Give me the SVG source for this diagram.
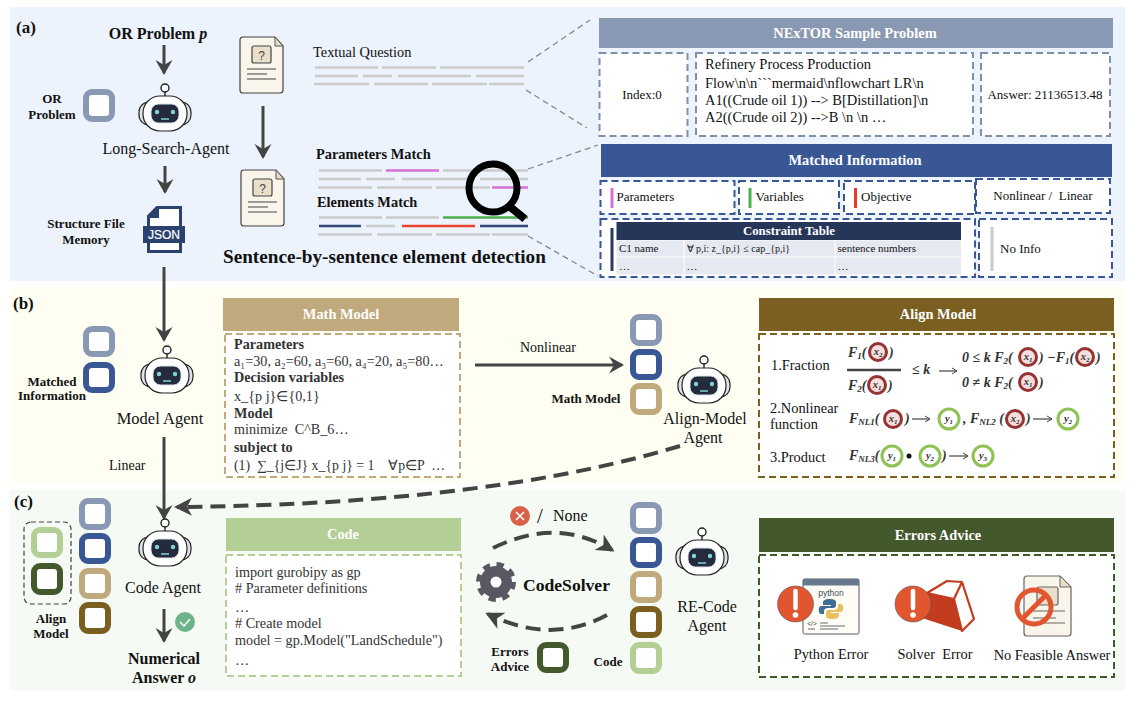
<svg xmlns="http://www.w3.org/2000/svg" width="1140" height="702" viewBox="0 0 1140 702">
<style>
text{font-family:"Liberation Serif","Times New Roman",serif;fill:#111}
.b{font-weight:bold}
.c{text-anchor:middle}
.t16{font-size:16px}.t14{font-size:14.4px}.t13{font-size:13px}.t11{font-size:13px}.t10{font-size:11px}
.lab{font-size:17px;font-weight:bold}
.hd{font-size:14.400px;font-weight:bold;fill:#fff;text-anchor:middle}
.body{font-size:14.200px;fill:#333}
.sq{fill:#fff;stroke-width:6}
.slate{stroke:#8a99b3}.blue{stroke:#3a5795}.tan{stroke:#c0aa7d}.brown{stroke:#7a5f20}.lg{stroke:#b3cf95}.dg{stroke:#43582b}
.dash{fill:#fff;stroke-width:2;stroke-dasharray:7 4}
.gl{stroke:#cbcbcb;stroke-width:2.5;fill:none}
.ar{stroke:#444;stroke-width:3;fill:none;marker-end:url(#h)}
.ad{stroke:#444;stroke-width:4;fill:none;stroke-dasharray:15 8;marker-end:url(#h2)}
.lead{stroke:#888;stroke-width:1.3;fill:none;stroke-dasharray:6 4}
.m{font-size:14px;font-weight:bold;font-style:italic;fill:#333}
.s{font-size:9px}
.rc{fill:#f4dede;stroke:#963232;stroke-width:3}
.gc{fill:#fff;stroke:#8fc254;stroke-width:3}
.v{font-size:10.500px;font-weight:bold;font-style:italic;text-anchor:middle;fill:#333}
.v tspan{font-size:7px}
.ma{stroke:#444;stroke-width:1.2;fill:none;marker-end:url(#h3)}
</style>
<defs>
<marker id="h" markerUnits="userSpaceOnUse" markerWidth="16" markerHeight="18" refX="13" refY="9" orient="auto"><path d="M15,9L0,0.5L5,9L0,17.5z" fill="#444"/></marker>
<marker id="h2" markerUnits="userSpaceOnUse" markerWidth="19" markerHeight="20" refX="15" refY="10" orient="auto"><path d="M18,10L0,1L5,10L0,19z" fill="#444"/></marker>
<marker id="h3" markerUnits="userSpaceOnUse" markerWidth="7" markerHeight="8" refX="6" refY="4" orient="auto"><path d="M1,1L6,4L1,7" fill="none" stroke="#444" stroke-width="1"/></marker>
<g id="robot">
<path d="M0,-23V-18" stroke="#222" stroke-width="1.4"/>
<circle cx="0" cy="-27" r="4" fill="#fff" stroke="#222" stroke-width="1.4"/>
<rect x="-26" y="-13" width="52" height="23" rx="10" fill="#e3e4ea" stroke="#222" stroke-width="1.2"/>
<rect x="-22" y="-19" width="44" height="35" rx="17" fill="#fff" stroke="#222" stroke-width="1.2"/>
<rect x="-14" y="-11" width="28" height="19" rx="7.500" fill="#232b3c" stroke="#dfe1ea" stroke-width="1"/>
<circle cx="-8" cy="-3" r="2.2" fill="#7fd6d3"/><circle cx="8" cy="-3" r="2.2" fill="#7fd6d3"/>
<path d="M-4,4H4" stroke="#7fd6d3" stroke-width="1.5"/>
</g>
<g id="doc">
<path d="M3,0H35L43,9V53Q43,56 40,56H3Q0,56 0,53V3Q0,0 3,0Z" fill="#faf5ea" stroke="#444" stroke-width="1.2"/>
<path d="M35,0V9H43Z" fill="#e8dcc4" stroke="#555" stroke-width="1"/>
<rect x="12" y="9" width="19" height="17" rx="2" fill="#eadfca" stroke="#444" stroke-width="1.2"/>
<path d="M7,32H36M7,37H27M7,42H36" stroke="#444" stroke-width="1.2" fill="none"/>
</g>
</defs>

<rect x="10" y="7" width="1115" height="274" fill="#ecf3fc"/>
<rect x="10" y="288" width="1115" height="195" fill="#fefef2"/>
<rect x="10" y="490" width="1115" height="200" fill="#f6faf4"/>

<g id="connectors">
<path class="ar" d="M164,45V73"/>
<path class="ar" d="M263,106V157"/>
<path class="ar" d="M165,166V192"/>
<path class="ar" d="M164,267V340"/>
<path class="ar" d="M164,437V518"/>
<path class="ar" d="M164,609V641"/>
<path class="ar" d="M475,365H622"/>
<path class="ad" d="M680,446C560,482 400,505 177,507"/>
<path class="ad" d="M493,548C530,530 570,525 612,550"/>
<path class="ad" d="M607,615C570,635 530,635 488,614"/>
<path class="lead" d="M528,62L590,20M526,90L587,128M528,169L598,145M528,236L598,276"/>
</g>

<g id="panel-labels">
<text x="16" y="33" class="lab">(a)</text>
<text x="13" y="309" class="lab">(b)</text>
<text x="14" y="507" class="lab">(c)</text>
</g>

<g id="or-problem">
<text x="158" y="39" class="c b t16">OR Problem <tspan font-style="italic">p</tspan></text>
</g>
<g id="or-square">
<rect class="sq slate" x="86" y="92" width="26" height="27" rx="6"/>
<text x="52" y="103" class="c b t11">OR</text><text x="52" y="119" class="c b t11">Problem</text>
</g>
<g id="long-search-agent">
<use href="#robot" x="165" y="115"/>
<text x="166" y="154" class="c t16">Long-Search-Agent</text>
</g>
<g id="json-memory">
<text x="86" y="228" class="c b t11">Structure File</text><text x="86" y="244" class="c b t11">Memory</text>
<path d="M157,207.500H180.500V251.500H148.500V216Z" fill="#fff" stroke="#2c426e" stroke-width="3"/>
<path d="M147,218L159,206V218Z" fill="#2c426e"/>
<rect x="143" y="226" width="42" height="17" fill="#2c426e"/>
<text x="164" y="239" class="c" style="font-family:'Liberation Sans',sans-serif;font-size:12px;fill:#fff;stroke:#fff;stroke-width:.2">JSON</text>
</g>
<g id="doc-question">
<use href="#doc" x="240" y="37"/>
<text x="261.500" y="60" class="c" style="font-family:'Liberation Sans',sans-serif;font-size:12px;fill:#444">?</text>
</g>
<g id="doc-match">
<use href="#doc" x="241" y="170"/>
<text x="262.500" y="193" class="c" style="font-family:'Liberation Sans',sans-serif;font-size:12px;fill:#444">?</text>
</g>
<g id="textual-question">
<text x="313" y="57" class="t14">Textual Question</text>
<path class="gl" d="M315,67.500H378M382,67.500H436M440,67.500H524M315,76H358M363,76H392M398,76H471M476,76H524M314,84H369M374,84H428M432,84H487M489,84H524"/>
</g>
<g id="parameters-match">
<text x="316" y="159" class="b t14">Parameters Match</text>
<path class="gl" d="M319,170.500H382M443,170.500H528M319,179H361M366,179H395M402,179H475M480,179H528M318,187.500H372M377,187.500H432M436,187.500H490"/>
<path class="gl" style="stroke:#d86fd6" d="M386,170.500H439M492,187.500H528"/>
</g>
<g id="elements-match">
<text x="317" y="207" class="b t14">Elements Match</text>
<path class="gl" d="M319,217.500H382M386,217.500H439M366,226H395M318,234.500H372M377,234.500H432M436,234.500H490M492,234.500H528"/>
<path class="gl" style="stroke:#4caf50" d="M443,217.500H528"/>
<path class="gl" style="stroke:#34497a" d="M319,226H361M480,226H528"/>
<path class="gl" style="stroke:#e8432e" d="M402,226H475"/>
</g>
<g id="magnifier">
<circle cx="493" cy="188" r="24" fill="none" stroke="#000" stroke-width="7"/>
<path d="M509,206L525,219" stroke="#000" stroke-width="8"/>
</g>
<text x="223" y="263" class="b" style="font-size:19.200px">Sentence-by-sentence element detection</text>

<g id="nextor-sample">
<rect x="599" y="18" width="514" height="30" fill="#8a99b3"/>
<text x="855" y="38" class="hd">NExTOR Sample Problem</text>
<g stroke="#7f90ab">
<rect class="dash" x="599.500" y="53" width="88" height="83"/>
<rect class="dash" x="696" y="53" width="277" height="83"/>
<rect class="dash" x="981" y="53" width="129" height="83"/>
</g>
<text x="642" y="99" class="c t13">Index:0</text>
<g style="font-size:14.500px">
<text x="705" y="69">Refinery Process Production</text>
<text x="705" y="88">Flow\n\n```mermaid\nflowchart LR\n</text>
<text x="705" y="105">A1((Crude oil 1)) --&gt; B[Distillation]\n</text>
<text x="705" y="122">A2((Crude oil 2)) --&gt;B \n \n …</text>
</g>
<text x="1045" y="99" class="c t13">Answer: 21136513.48</text>
</g>

<g id="matched-information">
<rect x="601" y="144" width="511" height="33" fill="#3a5795"/>
<text x="855" y="165" class="hd">Matched Information</text>
<g stroke="#3a5795">
<rect class="dash" x="600.500" y="181" width="134" height="33"/>
<rect class="dash" x="739" y="181" width="100" height="33"/>
<rect class="dash" x="844" y="181" width="131" height="33"/>
<rect class="dash" x="976" y="179" width="134" height="34"/>
<rect class="dash" x="600.500" y="219" width="374.500" height="58"/>
<rect class="dash" x="979" y="219" width="133" height="58"/>
</g>
<rect x="610.500" y="188" width="3" height="20" fill="#d86fd6"/><text x="616.500" y="201" class="t13">Parameters</text>
<rect x="748.500" y="188" width="3" height="20" fill="#4caf50"/><text x="755.500" y="201" class="t13">Variables</text>
<rect x="854" y="188" width="3" height="20" fill="#e53c2e"/><text x="861" y="201" class="t13">Objective</text>
<text x="1043" y="200" class="c t13" xml:space="preserve">Nonlinear /  Linear</text>
<rect x="610.500" y="228" width="3" height="43" fill="#2b3a63"/>
<rect x="616.500" y="222" width="344.500" height="18" fill="#263659"/>
<text x="789" y="235" class="c b" style="font-size:12.800px;fill:#fff">Constraint Table</text>
<g fill="#e6e9f2">
<rect x="616.500" y="240.500" width="67" height="16"/><rect x="684.500" y="240.500" width="150" height="16"/><rect x="835.500" y="240.500" width="125.500" height="16"/>
<rect x="616.500" y="257.500" width="67" height="17"/><rect x="684.500" y="257.500" width="150" height="17"/><rect x="835.500" y="257.500" width="125.500" height="17"/>
</g>
<text x="619" y="252" class="t10">C1 name</text>
<text x="686.500" y="252" style="font-size:10px">∀ p,i: z_{p,i} ≤ cap_{p,i}</text>
<text x="837.500" y="252" class="t10">sentence numbers</text>
<text x="619" y="270" class="t10">…</text><text x="686.500" y="270" class="t10">…</text><text x="837.500" y="270" class="t10">…</text>
<rect x="990.500" y="227" width="3" height="44" fill="#c9c9c9"/>
<text x="1000" y="253" class="t13">No Info</text>
</g>

<g id="matched-squares">
<rect class="sq slate" x="86" y="329" width="26" height="25" rx="6"/>
<rect class="sq blue" x="86" y="365" width="26" height="25" rx="6"/>
<text x="52" y="386" class="c b t11">Matched</text><text x="52" y="400" class="c b t11">Information</text>
</g>
<g id="model-agent">
<use href="#robot" x="167" y="377"/>
<text x="160" y="424" class="c" style="font-size:16.500px">Model Agent</text>
</g>
<text x="109" y="470" style="font-size:14px">Linear</text>
<g id="math-model">
<rect x="223" y="298" width="236" height="33" fill="#c0aa7d"/>
<text x="341" y="319" class="hd">Math Model</text>
<rect class="dash tan" x="225" y="334" width="235" height="143"/>
<text x="234" y="349" class="body b">Parameters</text>
<text x="234" y="366" class="body">a₁=30, a₂=60, a₃=60, a₄=20, a₅=80…</text>
<text x="234" y="382" class="body b">Decision variables</text>
<text x="234" y="401" class="body">x_{p j}∈{0,1}</text>
<text x="234" y="418" class="body b">Model</text>
<text x="234" y="434" class="body" xml:space="preserve">minimize  C^B_6…</text>
<text x="234" y="452" class="body b">subject to</text>
<text x="234" y="470" class="body" style="font-size:13.800px" xml:space="preserve">(1)  ∑_{j∈J} x_{p j} = 1    ∀p∈P  …</text>
</g>
<text x="548" y="352" class="c" style="font-size:14px">Nonlinear</text>
<g id="math-squares">
<rect class="sq slate" x="633" y="317" width="26" height="26" rx="6"/>
<rect class="sq blue" x="633" y="352" width="26" height="25" rx="6"/>
<rect class="sq tan" x="633" y="386" width="26" height="26" rx="6"/>
<text x="586" y="403" class="c b t11">Math Model</text>
</g>
<g id="align-model-agent">
<use href="#robot" x="704" y="387"/>
<text x="705" y="424" class="c t16">Align-Model</text><text x="703" y="443" class="c t16">Agent</text>
</g>
<g id="align-model">
<rect x="759" y="298" width="355" height="33" fill="#7a5f20"/>
<text x="938" y="319" class="hd">Align Model</text>
<rect class="dash brown" x="759" y="334" width="355" height="143"/>
<g style="font-size:14.400px;fill:#222">
<text x="771" y="370">1.Fraction</text><text x="770" y="413">2.Nonlinear</text><text x="770" y="429">function</text><text x="770" y="462">3.Product</text>
</g>
<text x="848" y="357" class="m">F<tspan class="s" dy="2">1</tspan><tspan dy="-2">(</tspan></text><text x="889" y="357" class="m">)</text>
<path d="M847,370H901" stroke="#444" stroke-width="2.500"/>
<text x="848" y="390" class="m">F<tspan class="s" dy="2">2</tspan><tspan dy="-2">(</tspan></text><text x="888" y="390" class="m">)</text>
<text x="912" y="374" class="m">≤ k</text>
<path class="ma" d="M939,371H957"/>
<text x="962" y="362" class="m">0 ≤ k F<tspan class="s" dy="2">2</tspan><tspan dy="-2">(</tspan></text><text x="1039" y="362" class="m">) −F<tspan class="s" dy="2">1</tspan><tspan dy="-2">(</tspan></text><text x="1096" y="362" class="m">)</text>
<text x="962" y="387" class="m">0 ≠ k F<tspan class="s" dy="2">2</tspan><tspan dy="-2">(</tspan></text><text x="1039" y="387" class="m">)</text>
<text x="849" y="423" class="m">F<tspan class="s" dy="2">NL1</tspan><tspan dy="-2">(</tspan></text><text x="905" y="423" class="m">)</text>
<path class="ma" d="M912,419H930"/>
<text x="963" y="423" class="m">, F<tspan class="s" dy="2">NL2</tspan><tspan dy="-2"> (</tspan></text><text x="1026" y="423" class="m">)</text>
<path class="ma" d="M1033,419H1052"/>
<text x="849" y="460" class="m">F<tspan class="s" dy="2">NL3</tspan><tspan dy="-2">(</tspan></text><text x="942" y="460" class="m">)</text>
<circle cx="909" cy="456" r="2.500" fill="#111"/>
<path class="ma" d="M949,456H968"/>
<circle class="rc" cx="878" cy="352" r="8.500"/><text class="v" x="878" y="355">x<tspan dy="2">2</tspan></text>
<circle class="rc" cx="877" cy="385" r="8.500"/><text class="v" x="877" y="388">x<tspan dy="2">1</tspan></text>
<circle class="rc" cx="1028" cy="357" r="8.500"/><text class="v" x="1028" y="360">x<tspan dy="2">1</tspan></text>
<circle class="rc" cx="1085" cy="357" r="8.500"/><text class="v" x="1085" y="360">x<tspan dy="2">2</tspan></text>
<circle class="rc" cx="1028" cy="382" r="8.500"/><text class="v" x="1028" y="385">x<tspan dy="2">1</tspan></text>
<circle class="rc" cx="893" cy="419" r="8.500"/><text class="v" x="893" y="422">x<tspan dy="2">1</tspan></text>
<circle class="rc" cx="1015" cy="419" r="8.500"/><text class="v" x="1015" y="422">x<tspan dy="2">2</tspan></text>
<circle class="gc" cx="949" cy="419" r="10"/><text class="v" x="949" y="422">y<tspan dy="2">1</tspan></text>
<circle class="gc" cx="1068" cy="419" r="10"/><text class="v" x="1068" y="422">y<tspan dy="2">2</tspan></text>
<circle class="gc" cx="892" cy="456" r="10"/><text class="v" x="892" y="459">y<tspan dy="2">1</tspan></text>
<circle class="gc" cx="930" cy="456" r="10"/><text class="v" x="930" y="459">y<tspan dy="2">2</tspan></text>
<circle class="gc" cx="983" cy="456" r="10"/><text class="v" x="983" y="459">y<tspan dy="2">3</tspan></text>
</g>

<g id="align-squares">
<rect x="24" y="522" width="47" height="82" rx="7" fill="none" stroke="#444" stroke-width="1.200" stroke-dasharray="5 3"/>
<rect class="sq lg" x="34" y="530" width="26" height="25" rx="6"/>
<rect class="sq dg" x="34" y="566" width="26" height="26" rx="6"/>
<text x="51" y="623" class="c b t11">Align</text><text x="51" y="638" class="c b t11">Model</text>
</g>
<g id="code-inputs">
<rect class="sq slate" x="82" y="501" width="26" height="26" rx="6"/>
<rect class="sq blue" x="82" y="536" width="26" height="25" rx="6"/>
<rect class="sq tan" x="82" y="571" width="26" height="25" rx="6"/>
<rect class="sq brown" x="82" y="605" width="26" height="26" rx="6"/>
</g>
<g id="code-agent">
<use href="#robot" x="165" y="550"/>
<text x="163" y="593" class="c t16">Code Agent</text>
</g>
<g id="numerical-answer">
<circle cx="185" cy="622" r="10" fill="#6db38a"/>
<path d="M180,622L184,626L190,619" fill="none" stroke="#fff" stroke-width="1.500"/>
<text x="164" y="664" class="c b t16">Numerical</text><text x="164" y="683" class="c b t16">Answer <tspan font-style="italic">o</tspan></text>
</g>
<g id="code">
<rect x="226" y="518" width="235" height="33" fill="#b3cf95"/>
<text x="343" y="539" class="hd">Code</text>
<rect class="dash lg" x="226" y="555" width="235" height="121"/>
<text x="235" y="577" class="body">import gurobipy as gp</text>
<text x="235" y="593" class="body"># Parameter definitions</text>
<text x="235" y="612" class="body">…</text>
<text x="235" y="628" class="body"># Create model</text>
<text x="235" y="645" class="body">model = gp.Model("LandSchedule")</text>
<text x="235" y="665" class="body">…</text>
</g>
<g id="error-none">
<circle cx="520" cy="516" r="10" fill="#d9604a"/>
<path d="M516,512L524,520M524,512L516,520" stroke="#fff" stroke-width="1.600"/>
<text x="537" y="523" style="font-size:21px">/</text>
<text x="553" y="521" style="font-size:16px">None</text>
</g>
<g id="codesolver">
<circle cx="496" cy="582" r="16" fill="#585862"/>
<circle cx="496" cy="582" r="17" fill="none" stroke="#585862" stroke-width="6" stroke-dasharray="7 6.350"/>
<circle cx="496" cy="582" r="5.500" fill="#fff"/>
<text x="523" y="591" class="b" style="font-size:17.600px">CodeSolver</text>
</g>
<g id="errors-advice-square">
<rect class="sq dg" x="540" y="645" width="26" height="25" rx="6"/>
<text x="510" y="656" class="c b t11">Errors</text><text x="510" y="671" class="c b t11">Advice</text>
</g>
<g id="re-code-squares">
<rect class="sq slate" x="633" y="505" width="26" height="26" rx="6"/>
<rect class="sq blue" x="633" y="540" width="26" height="25" rx="6"/>
<rect class="sq tan" x="633" y="574" width="26" height="26" rx="6"/>
<rect class="sq brown" x="633" y="609" width="26" height="26" rx="6"/>
<rect class="sq lg" x="633" y="645" width="26" height="26" rx="6"/>
<text x="608" y="666" class="c b t11">Code</text>
</g>
<g id="re-code-agent">
<use href="#robot" x="702" y="559"/>
<text x="707" y="612" class="c t16">RE-Code</text><text x="707" y="631" class="c t16">Agent</text>
</g>
<g id="errors-advice">
<rect x="759" y="518" width="355" height="34" fill="#43582b"/>
<text x="938" y="540" class="hd">Errors Advice</text>
<rect class="dash dg" x="759" y="555" width="355" height="122"/>
<rect x="803" y="579" width="56" height="55" rx="1.500" fill="#fffdf5" stroke="#556" stroke-width="1"/>
<rect x="803" y="579" width="56" height="6.500" fill="#66798f"/>
<text x="831" y="596" class="c" style="font-family:'Liberation Sans',sans-serif;font-size:8.500px;fill:#3a4a5c">python</text>
<path d="M830,599c-5,0-7,1-7,4v2h8v1h-10c-3,0-3,8 0,8h3v-3c0-2 2-3 4-3h5c2,0 3-1 3-3v-3c0-2-2-3-6-3z" fill="#3e6e96"/>
<path d="M832,619c5,0 7-1 7-4v-2h-8v-1h10c3,0 3-8 0-8h-3v3c0,2-2,3-4,3h-5c-2,0-3,1-3,3v3c0,2 2,3 6,3z" fill="#e8c060"/>
<text x="812" y="626" class="c" style="font-family:'Liberation Sans',sans-serif;font-size:6.500px;fill:#333">&lt;/&gt;</text>
<path d="M820,623H828M820,626H845M808,629H815M820,629H838" stroke="#667" stroke-width="1"/>
<circle cx="795.500" cy="604" r="18" fill="#e2562f" stroke="#556" stroke-width=".6"/>
<path d="M795.500,591V608" stroke="#fff" stroke-width="4.500" stroke-linecap="round"/><circle cx="795.500" cy="615" r="2.800" fill="#fff"/>
<path d="M927,593L954,599L962,631L922,618Z" fill="#c23c1d"/>
<path d="M927,593L947,581L962,582L974,619L962,631L954,599ZM962,582L954,599" fill="#fff" stroke="#c23c1d" stroke-width="2.200" stroke-linejoin="round"/>
<circle cx="913" cy="604" r="18" fill="#e2562f" stroke="#556" stroke-width=".6"/>
<path d="M913,591V608" stroke="#fff" stroke-width="4.500" stroke-linecap="round"/><circle cx="913" cy="615" r="2.800" fill="#fff"/>
<path d="M1027,576H1060L1071,587V633Q1071,636 1068,636H1027Q1024,636 1024,633V579Q1024,576 1027,576Z" fill="#faf5ea" stroke="#666" stroke-width="1.200"/>
<path d="M1060,576V587H1071Z" fill="#e8dcc4" stroke="#666" stroke-width="1"/>
<rect x="1037" y="587" width="21" height="18" rx="2" fill="#eadfca" stroke="#666" stroke-width="1.200"/>
<path d="M1033,611H1065M1033,618H1056M1033,623H1065" stroke="#666" stroke-width="1.200"/>
<circle cx="1034" cy="607" r="17" fill="none" stroke="#e2562f" stroke-width="5"/>
<path d="M1022,619L1046,595" stroke="#e2562f" stroke-width="5"/>
<text x="831" y="659" class="c t14">Python Error</text>
<text x="935" y="659" class="c t14" xml:space="preserve">Solver  Error</text>
<text x="1052" y="660" class="c t14">No Feasible Answer</text>
</g>
</svg>
